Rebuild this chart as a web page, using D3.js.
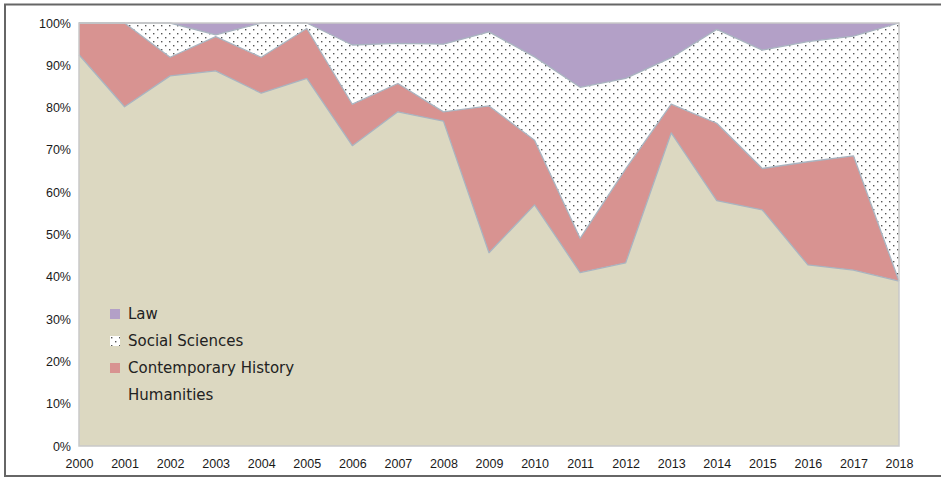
<!DOCTYPE html>
<html>
<head>
<meta charset="utf-8">
<script src="https://cdn.jsdelivr.net/npm/d3@7/dist/d3.min.js"></script>
<style>
  html, body { margin: 0; padding: 0; background: #fff; }
  svg { display: block; }
</style>
</head>
<body>
<svg id="chart" width="941" height="478"></svg>
<script>
// ---- Data (shares in %) ----
const years = [2000,2001,2002,2003,2004,2005,2006,2007,2008,2009,2010,2011,2012,2013,2014,2015,2016,2017,2018];
const humanities          = [92.5,80.2,87.5,88.7,83.4,86.9,71.0,79.0,76.8,45.7,57.0,41.0,43.3,74.0,58.0,55.8,42.8,41.6,39.0];
const contemporaryHistory = [7.5,19.8,4.4,8.1,8.5,11.8,9.8,6.7,2.2,34.7,15.3,8.1,22.2,6.8,18.3,9.8,24.4,27.0,0];
const socialSciences      = [0,0,8.1,0.4,8.1,1.3,14.0,9.5,16.0,17.5,19.7,35.7,21.4,11.0,22.2,28.0,28.4,28.3,61.0];
const law                 = [0,0,0,2.8,0,0,5.2,4.8,5.0,2.1,8.0,15.2,13.1,8.2,1.5,6.4,4.4,3.1,0];
const seriesNames = ["Humanities","Contemporary History","Social Sciences","Law"];
const yTicks = [0,10,20,30,40,50,60,70,80,90,100];

const rows = years.map((y,i) => ({
  year: y,
  "Humanities": humanities[i],
  "Contemporary History": contemporaryHistory[i],
  "Social Sciences": socialSciences[i],
  "Law": law[i]
}));

const fills = {
  "Humanities": "#dcd8c1",
  "Contemporary History": "#d89391",
  "Social Sciences": "url(#dots)",
  "Law": "#b3a0c7"
};

const svg = d3.select("#chart");

// pattern
const defs = svg.append("defs");
const pat = defs.append("pattern").attr("id","dots").attr("patternUnits","userSpaceOnUse")
  .attr("width",8).attr("height",8);
pat.append("rect").attr("width",8).attr("height",8).attr("fill","#fff");
pat.append("rect").attr("x",1).attr("y",1).attr("width",1.4).attr("height",1.4).attr("fill","#555");
pat.append("rect").attr("x",5).attr("y",5).attr("width",1.4).attr("height",1.4).attr("fill","#555");

const x = d3.scaleLinear().domain([2000,2018]).range([79,899]);
const y = d3.scaleLinear().domain([0,100]).range([446,23]);

const stack = d3.stack().keys(seriesNames);
const layers = stack(rows);

const area = d3.area()
  .x(d => x(d.data.year))
  .y0(d => y(d[0]))
  .y1(d => y(d[1]));

const topLine = d3.line()
  .x(d => x(d.data.year))
  .y(d => y(d[1]));

svg.append("g").selectAll("path").data(layers).join("path")
  .attr("d", area)
  .attr("fill", d => fills[d.key])
  .attr("stroke", "none");

svg.append("g").selectAll("path").data(layers.slice(0,3)).join("path")
  .attr("d", topLine)
  .attr("fill", "none")
  .attr("stroke", "#a9b4c0")
  .attr("stroke-width", 1.3)
  .attr("stroke-linejoin","round");

// plot frame
svg.append("rect")
  .attr("x", x(2000)).attr("y", y(100))
  .attr("width", x(2018)-x(2000)).attr("height", y(0)-y(100))
  .attr("fill","none").attr("stroke","#c9c9c9").attr("stroke-width",1.5);

// axes
const yAxis = d3.axisLeft(y).tickValues(yTicks).tickSize(0).tickPadding(8)
  .tickFormat(d => d + "%");
const gy = svg.append("g").attr("transform", `translate(${x(2000)},0)`).call(yAxis);
gy.select(".domain").remove();
gy.selectAll("text").attr("font-family","'Liberation Sans', Arial, sans-serif")
  .attr("font-size","12.5px").attr("fill","#1a1a1a");

const xAxis = d3.axisBottom(x).tickValues(years).tickSize(0).tickPadding(13)
  .tickFormat(d3.format("d"));
const gx = svg.append("g").attr("transform", `translate(0,${y(0)})`).call(xAxis);
gx.select(".domain").remove();
gx.selectAll("text").attr("font-family","'Liberation Sans', Arial, sans-serif")
  .attr("font-size","12.5px").attr("fill","#1a1a1a");

// legend
const legendOrder = ["Law","Social Sciences","Contemporary History","Humanities"];
const lg = svg.append("g").attr("transform","translate(110,309)");
legendOrder.forEach((k,i) => {
  const g = lg.append("g").attr("transform",`translate(0,${i*27})`);
  g.append("rect").attr("width",10).attr("height",10).attr("fill", fills[k]);
  g.append("text").attr("x",18).attr("y",10)
    .attr("font-family","'DejaVu Sans', Verdana, sans-serif").attr("font-size","15px")
    .attr("fill","#222").text(k);
});

// outer border (top, left, bottom)
svg.append("path")
  .attr("d","M941,4.5 H5 V476 H941")
  .attr("fill","none").attr("stroke","#666").attr("stroke-width",2);
</script>
</body>
</html>
